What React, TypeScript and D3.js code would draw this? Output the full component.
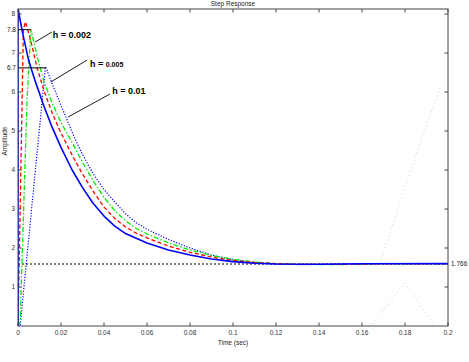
import React from 'react';
import * as d3 from 'd3';

// ---------- data ----------
const X_TICKS = [0, 0.02, 0.04, 0.06, 0.08, 0.1, 0.12, 0.14, 0.16, 0.18, 0.2];
const X_TICK_LABELS = ['0', '0.02', '0.04', '0.06', '0.08', '0.1', '0.12', '0.14', '0.16', '0.18', '0.2'];
const Y_TICKS = [1, 2, 3, 4, 5, 6, 7, 8];
const Y_TICK_LABELS = ['1', '2', '3', '4', '5', '6', '7', '8'];

// continuous response (blue solid)
const T_CONT = [0, 0, 0.002, 0.005, 0.008, 0.012, 0.016, 0.02, 0.025, 0.03, 0.035, 0.04, 0.045, 0.05, 0.06, 0.07, 0.08, 0.09, 0.1, 0.11, 0.12, 0.14, 0.16, 0.2];
const Y_CONT = [0, 8.15, 7.55, 6.8, 6.28, 5.65, 5.08, 4.58, 4.02, 3.55, 3.14, 2.82, 2.56, 2.37, 2.13, 1.95, 1.82, 1.72, 1.65, 1.61, 1.59, 1.585, 1.595, 1.6];

// red dashed
const T_RED = [0, 0.001, 0.0025, 0.0035, 0.006, 0.009, 0.012, 0.016, 0.02, 0.025, 0.03, 0.035, 0.04, 0.045, 0.05, 0.055, 0.06, 0.07, 0.08, 0.09, 0.1, 0.11, 0.12, 0.13, 0.15, 0.17, 0.2];
const Y_RED = [0, 3.0, 7.6, 7.8, 7.3, 6.6, 6.05, 5.45, 4.95, 4.4, 3.9, 3.45, 3.05, 2.76, 2.54, 2.38, 2.26, 2.05, 1.89, 1.77, 1.68, 1.63, 1.6, 1.58, 1.58, 1.6, 1.6];

// green dash-dot
const T_GREEN = [0, 0.001, 0.0042, 0.006, 0.009, 0.012, 0.016, 0.02, 0.025, 0.03, 0.035, 0.04, 0.045, 0.05, 0.055, 0.06, 0.07, 0.08, 0.09, 0.1, 0.11, 0.12, 0.13, 0.15, 0.17, 0.2];
const Y_GREEN = [0, 0.1, 5.8, 7.6, 6.9, 6.28, 5.7, 5.22, 4.72, 4.2, 3.72, 3.3, 2.96, 2.7, 2.5, 2.36, 2.13, 1.95, 1.81, 1.71, 1.64, 1.6, 1.58, 1.575, 1.6, 1.6];

// blue dotted
const T_DOT = [0, 0.001, 0.0128, 0.016, 0.0195, 0.0219, 0.0265, 0.03, 0.035, 0.04, 0.045, 0.05, 0.055, 0.06, 0.07, 0.08, 0.09, 0.1, 0.11, 0.12, 0.13, 0.15, 0.17, 0.2];
const Y_DOT = [0, 0, 6.65, 6.2, 5.72, 5.41, 4.8, 4.4, 3.9, 3.5, 3.18, 2.88, 2.65, 2.48, 2.22, 2.0, 1.82, 1.7, 1.63, 1.59, 1.575, 1.58, 1.6, 1.6];

// faint artefact dotted traces at the right
const T_FAINT_A = [0.1963, 0.187, 0.1791, 0.1730, 0.1684];
const Y_FAINT_A = [6.1, 4.69, 3.41, 2.38, 1.61];
const T_FAINT_B = [0.1637, 0.1800, 0.1930];
const Y_FAINT_B = [-0.03, 1.10, 0.08];

const STEADY = 1.59;
const STEADY_LABEL = '1.766';

// peak markers
const PEAK_HI = { t: 0.006, v: 7.6, label: '7.8' };
const PEAK_LO = { t: 0.013, v: 6.62, label: '6.7' };

// annotations: text anchor and leader line (data coords)
const ANNOT = [
  { main: 'h = 0.002', small: '', tx: 0.0162, tv: 7.38, from: [0.0158, 7.54], to: [0.0079, 7.28] },
  { main: 'h = ', small: '0.005', tx: 0.0335, tv: 6.62, from: [0.0321, 6.82], to: [0.0153, 6.26] },
  { main: 'h = 0.01', small: '', tx: 0.0438, tv: 5.95, from: [0.0428, 5.95], to: [0.0233, 5.36] },
];

const W = 469, H = 362;
const M = { left: 18, right: 21, top: 9, bottom: 36 };
const FONT = '"Liberation Sans", Arial, sans-serif';

export default function App() {
  const x = d3.scaleLinear().domain([0, 0.2]).range([M.left, W - M.right]);
  const y = d3.scaleLinear().domain([0, 8.13]).range([H - M.bottom, M.top]);
  const x0 = x(0), x1 = x(0.2), y0 = y(0), y1 = y(8.13);

  const line = d3.line<[number, number]>().x(d => x(d[0])).y(d => y(d[1]));
  const zip = (ts: number[], vs: number[]) => ts.map((t, i) => [t, vs[i]] as [number, number]);

  const series = [
    { t: T_FAINT_A, v: Y_FAINT_A, color: '#d0d0d0', dash: '1,3', w: 1 },
    { t: T_FAINT_B, v: Y_FAINT_B, color: '#d0d0d0', dash: '1,3', w: 1 },
    { t: T_DOT, v: Y_DOT, color: '#0000ff', dash: '1.2,1.6', w: 1.2 },
    { t: T_GREEN, v: Y_GREEN, color: '#00ee00', dash: '5,2,1.5,2', w: 1.3 },
    { t: T_RED, v: Y_RED, color: '#ff0000', dash: '4,2.5', w: 1.3 },
    { t: T_CONT, v: Y_CONT, color: '#0000ff', dash: '', w: 1.6 },
  ];

  const tickLen = 3.5;

  return (
    <svg width={W} height={H} style={{ position: 'absolute', left: 0, top: 0, background: '#fff' }}>
      <rect x={0} y={0} width={W} height={H} fill="#fff" />
      <defs>
        <clipPath id="plot">
          <rect x={x0} y={y1} width={x1 - x0} height={y0 - y1} />
        </clipPath>
      </defs>

      {/* title */}
      <text x={(x0 + x1) / 2} y={6} fontFamily={FONT} fontSize={6.5} textAnchor="middle" fill="#222">Step Response</text>

      {/* steady-state line */}
      <line x1={x0} x2={x1} y1={y(STEADY)} y2={y(STEADY)} stroke="#000" strokeWidth={1} strokeDasharray="2,2" />

      {/* curves */}
      <g clipPath="url(#plot)">
        {series.map((s, i) => (
          <path key={i} d={line(zip(s.t, s.v)) || ''} fill="none" stroke={s.color}
            strokeWidth={s.w} strokeDasharray={s.dash || undefined} strokeLinejoin="round" />
        ))}
      </g>

      {/* peak markers */}
      <line x1={x0} x2={x(PEAK_HI.t)} y1={y(PEAK_HI.v)} y2={y(PEAK_HI.v)} stroke="#000" strokeWidth={1} />
      <line x1={x0} x2={x(PEAK_LO.t)} y1={y(PEAK_LO.v)} y2={y(PEAK_LO.v)} stroke="#000" strokeWidth={1} />

      {/* axes box */}
      <rect x={x0} y={y1} width={x1 - x0} height={y0 - y1} fill="none" stroke="#444" strokeWidth={1} />

      {/* x ticks */}
      {X_TICKS.map((t, i) => (
        <g key={'xt' + i}>
          <line x1={x(t)} x2={x(t)} y1={y0} y2={y0 - tickLen} stroke="#444" />
          <line x1={x(t)} x2={x(t)} y1={y1} y2={y1 + tickLen} stroke="#444" />
          <text x={x(t)} y={y0 + 9} fontFamily={FONT} fontSize={6.5} textAnchor="middle" fill="#333">{X_TICK_LABELS[i]}</text>
        </g>
      ))}

      {/* y ticks */}
      {Y_TICKS.map((v, i) => (
        <g key={'yt' + i}>
          <line x1={x0} x2={x0 + tickLen} y1={y(v)} y2={y(v)} stroke="#444" />
          <line x1={x1} x2={x1 - tickLen} y1={y(v)} y2={y(v)} stroke="#444" />
          <text x={x0 - 3} y={y(v) + 2.3} fontFamily={FONT} fontSize={6.5} textAnchor="end" fill="#333">{Y_TICK_LABELS[i]}</text>
        </g>
      ))}
      <text x={x0 - 2} y={y(PEAK_HI.v) + 2.3} fontFamily={FONT} fontSize={6.5} textAnchor="end" fill="#111">{PEAK_HI.label}</text>
      <text x={x0 - 2} y={y(PEAK_LO.v) + 2.3} fontFamily={FONT} fontSize={6.5} textAnchor="end" fill="#111">{PEAK_LO.label}</text>

      {/* steady label */}
      <text x={x1 + 3} y={y(STEADY) + 2.3} fontFamily={FONT} fontSize={6.5} fill="#222">{STEADY_LABEL}</text>

      {/* axis labels */}
      <text x={(x0 + x1) / 2} y={345} fontFamily={FONT} fontSize={6.5} textAnchor="middle" fill="#222">Time (sec)</text>
      <text transform={`translate(7,${141}) rotate(-90)`} fontFamily={FONT} fontSize={6.5} textAnchor="middle" fill="#222">Amplitude</text>

      {/* annotations */}
      {ANNOT.map((a, i) => (
        <g key={'an' + i}>
          <line x1={x(a.from[0])} y1={y(a.from[1])} x2={x(a.to[0])} y2={y(a.to[1])} stroke="#000" strokeWidth={0.9} />
          <text x={x(a.tx)} y={y(a.tv) - 0.5} fontFamily={FONT} fontSize={9} fontWeight="bold" fill="#000">
            {a.main}
            {a.small ? <tspan fontSize={7}>{a.small}</tspan> : null}
          </text>
        </g>
      ))}
    </svg>
  );
}
